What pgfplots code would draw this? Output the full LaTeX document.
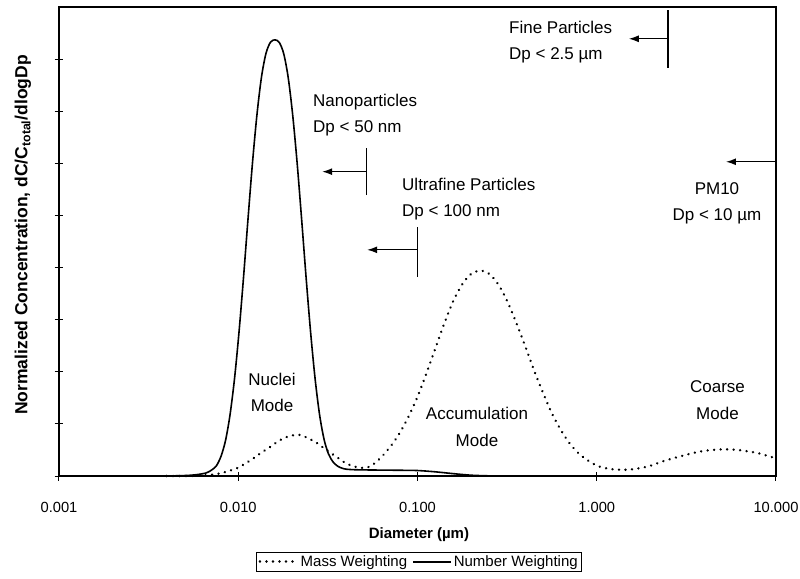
\documentclass[border=0pt]{standalone}
\usepackage{fontspec}
\setmainfont{Liberation Sans}
\usepackage{pgfplots}
\pgfplotsset{compat=1.18}
\usepackage{pgfplotstable}
\usetikzlibrary{arrows.meta}

% l = log10(diameter in um), y = normalized concentration
\pgfplotstableread{
l y
-2.40 0
-2.27 0
-2.20 0.01
-2.15 0.025
-2.10 0.05
-2.05 0.10
-2.007 0.15
-1.96 0.24
-1.915 0.34
-1.87 0.45
-1.821 0.56
-1.78 0.66
-1.749 0.72
-1.71 0.77
-1.672 0.79
-1.645 0.78
-1.620 0.74
-1.590 0.69
-1.560 0.63
-1.508 0.50
-1.449 0.36
-1.397 0.24
-1.350 0.18
-1.307 0.155
-1.275 0.17
-1.244 0.23
-1.20 0.37
-1.15 0.57
-1.10 0.82
-1.05 1.14
-1.00 1.52
-0.95 1.97
-0.90 2.45
-0.85 2.93
-0.80 3.36
-0.75 3.68
-0.70 3.88
-0.648 3.94
-0.60 3.88
-0.55 3.68
-0.50 3.36
-0.45 2.95
-0.40 2.50
-0.35 2.03
-0.30 1.60
-0.25 1.20
-0.20 0.88
-0.15 0.62
-0.10 0.43
-0.05 0.30
0.00 0.20
0.05 0.15
0.10 0.125
0.15 0.12
0.19 0.125
0.283 0.18
0.376 0.29
0.469 0.38
0.562 0.46
0.63 0.495
0.693 0.51
0.75 0.51
0.786 0.50
0.85 0.47
0.898 0.44
0.95 0.39
1.00 0.34
}\massdata

\pgfplotstableread{
l y
-2.50 0
-2.40 0.002
-2.346 0.004
-2.296 0.009
-2.246 0.02
-2.196 0.045
-2.171 0.07
-2.146 0.12
-2.121 0.20
-2.096 0.38
-2.071 0.68
-2.046 1.17
-2.021 1.86
-1.996 2.75
-1.971 3.79
-1.946 4.91
-1.921 5.99
-1.896 6.92
-1.871 7.64
-1.846 8.10
-1.821 8.32
-1.796 8.37
-1.771 8.32
-1.746 8.10
-1.721 7.64
-1.696 6.92
-1.671 5.99
-1.646 4.91
-1.621 3.79
-1.596 2.75
-1.571 1.86
-1.546 1.17
-1.521 0.70
-1.496 0.42
-1.471 0.27
-1.446 0.19
-1.421 0.15
-1.396 0.13
-1.346 0.12
-1.25 0.115
-1.10 0.11
-1.00 0.105
-0.90 0.08
-0.80 0.045
-0.70 0.015
-0.60 0.003
-0.50 0
}\numberdata

\begin{document}
\begin{tikzpicture}
\useasboundingbox (-59pt,-102pt) rectangle (741pt,476pt);
\begin{axis}[
  at={(0pt,0pt)}, anchor=south west,
  scale only axis, width=717pt, height=469pt,
  xmode=log, xmin=0.001, xmax=10, ymin=0, ymax=9,
  xtick={0.001,0.01,0.1,1,10},
  xticklabels={0.001,0.010,0.100,1.000,10.000},
  xminorticks=false,
  ytick={0,1,2,3,4,5,6,7,8}, yticklabels={},
  tick pos=left,
  tick align=center,
  major tick length=9pt,
  tick style={black, line width=1pt},
  axis line style={line width=1.2pt},
  tick label style={font=\fontsize{14.7}{16}\selectfont},
  xticklabel style={anchor=center, yshift=-27pt},
  xlabel={Diameter (µm)},
  xlabel style={font=\bfseries\fontsize{15}{17}\selectfont, at={(axis description cs:0.502,-0.1258)}, anchor=center},
  ylabel={Normalized Concentration, dC/C\textsubscript{total}/dlogDp},
  ylabel style={font=\bfseries\fontsize{17.5}{19}\selectfont, at={(axis description cs:-0.0502,0.514)}, anchor=center},
  legend style={at={(axis description cs:0.502,-0.1614)}, anchor=north, legend columns=2,
    draw=black, line width=0.8pt, font=\fontsize{15}{17}\selectfont,
    inner xsep=2pt, inner ysep=2pt, nodes={inner sep=1.5pt},
    /tikz/every even column/.append style={column sep=4pt}},
  legend image code/.code={\draw[#1] (0pt,0pt) -- (38pt,0pt);},
  clip=false,
]
\addplot[black, line width=2.6pt, dash pattern=on 0.01pt off 6.5pt, line cap=round, smooth]
  table[x expr={10^(\thisrow{l})}, y=y] {\massdata};
\addlegendentry{Mass Weighting}
\addplot[black, line width=1.6pt, smooth]
  table[x expr={10^(\thisrow{l})}, y=y] {\numberdata};
\addlegendentry{Number Weighting}

% size-range markers
\draw[line width=1.2pt] (axis cs:2.5,7.83) -- (axis cs:2.5,8.94);
\draw[line width=1.3pt,-{Latex[length=10pt,width=7pt]}] (axis cs:2.5,8.39) -- (axis cs:1.51,8.39);
\draw[line width=1.2pt] (axis cs:0.052,5.39) -- (axis cs:0.052,6.30);
\draw[line width=1.3pt,-{Latex[length=10pt,width=7pt]}] (axis cs:0.052,5.84) -- (axis cs:0.0294,5.84);
\draw[line width=1.2pt] (axis cs:0.1,3.82) -- (axis cs:0.1,4.78);
\draw[line width=1.3pt,-{Latex[length=10pt,width=7pt]}] (axis cs:0.1,4.34) -- (axis cs:0.0524,4.34);
\draw[line width=1.3pt,-{Latex[length=10pt,width=7pt]}] (axis cs:10,6.03) -- (axis cs:5.26,6.03);

\begin{scope}[every node/.style={font=\fontsize{17}{26.5}\selectfont, inner sep=0pt}]
\node[align=left, anchor=west] at (rel axis cs:0.6276,0.9254) {Fine Particles\\Dp < 2.5 µm};
\node[align=left, anchor=west] at (rel axis cs:0.3543,0.7697) {Nanoparticles\\Dp < 50 nm};
\node[align=left, anchor=west] at (rel axis cs:0.4784,0.5906) {Ultrafine Particles\\Dp < 100 nm};
\node[align=center] at (rel axis cs:0.9177,0.581) {PM10\\Dp < 10 µm};
\node[align=center] at (rel axis cs:0.2971,0.178) {Nuclei\\Mode};
\node[align=center] at (rel axis cs:0.583,0.1045) {Accumulation\\Mode};
\node[align=center] at (rel axis cs:0.9184,0.162) {Coarse\\Mode};
\end{scope}
\end{axis}
\end{tikzpicture}
\end{document}
